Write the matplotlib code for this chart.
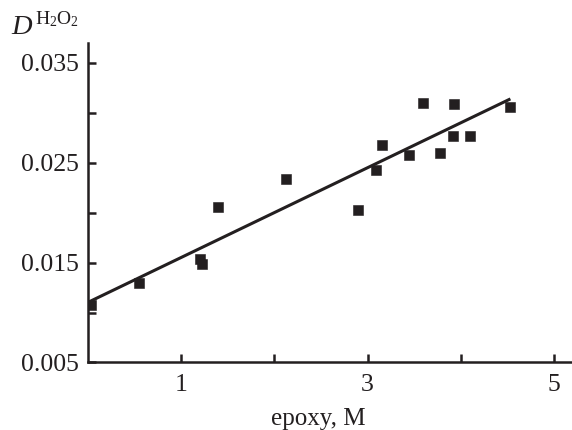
import numpy as np
import matplotlib.pyplot as plt

plt.rcParams['font.family'] = 'Liberation Serif'
plt.rcParams['mathtext.fontset'] = 'custom'
plt.rcParams['mathtext.rm'] = 'Liberation Serif'
plt.rcParams['mathtext.it'] = 'Liberation Serif:italic'

# epoxy concentration (M) and measured D(H2O2)
epoxy = [0.04, 0.55, 1.20, 1.23, 1.40, 2.13, 2.90, 3.09, 3.15,
         3.44, 3.59, 3.78, 3.91, 3.93, 4.10, 4.53]
d_h2o2 = [0.0108, 0.0130, 0.01535, 0.0149, 0.0206, 0.0234, 0.0203, 0.0243, 0.0268,
          0.0258, 0.0310, 0.0260, 0.0277, 0.0309, 0.0277, 0.0306]

# linear fit line end points
fit_x = [0.0, 4.53]
fit_y = [0.0110, 0.0314]

yticks = [0.005, 0.015, 0.025, 0.035]
xticks = [1, 3, 5]

ink = '#231f20'

fig = plt.figure(figsize=(5.72, 4.30), dpi=100)
ax = fig.add_axes([0.153, 0.157, 0.847, 0.743])

ax.plot(fit_x, fit_y, color=ink, lw=2.2, solid_capstyle='butt')
ax.plot(epoxy, d_h2o2, 's', color=ink, ms=6.9, mec=ink, mew=0.4)

ax.set_xlim(0, 5.19)
ax.set_ylim(0.005, 0.037)

ax.set_xticks(xticks)
ax.set_xticks([2, 4], minor=True)
ax.set_xticklabels([str(t) for t in xticks])
ax.set_yticks(yticks)
ax.set_yticks([0.010, 0.020, 0.030], minor=True)
ax.set_yticklabels(['%.3f' % t for t in yticks])

for s in ['top', 'right']:
    ax.spines[s].set_visible(False)
for s in ['left', 'bottom']:
    ax.spines[s].set_linewidth(1.8)
    ax.spines[s].set_color(ink)

ax.tick_params(which='both', direction='in', length=6, width=1.8, color=ink,
               labelsize=18.5, labelcolor=ink)
ax.tick_params(axis='x', pad=8)
ax.tick_params(axis='y', pad=6)

# x axis title
fig.text(318 / 572, 1 - 425 / 430, 'epoxy, M', fontsize=18, color=ink,
         ha='center', va='baseline')

# y axis title: italic D with H2O2 as a raised index
fig.text(0.019, 1 - 34 / 430, 'D', fontsize=20.5, style='italic', color=ink,
         ha='left', va='baseline')
fig.text(0.062, 1 - 24 / 430, r'H$_2$O$_2$', fontsize=14, color=ink,
         ha='left', va='baseline')

fig.savefig('out.png', dpi=100)
